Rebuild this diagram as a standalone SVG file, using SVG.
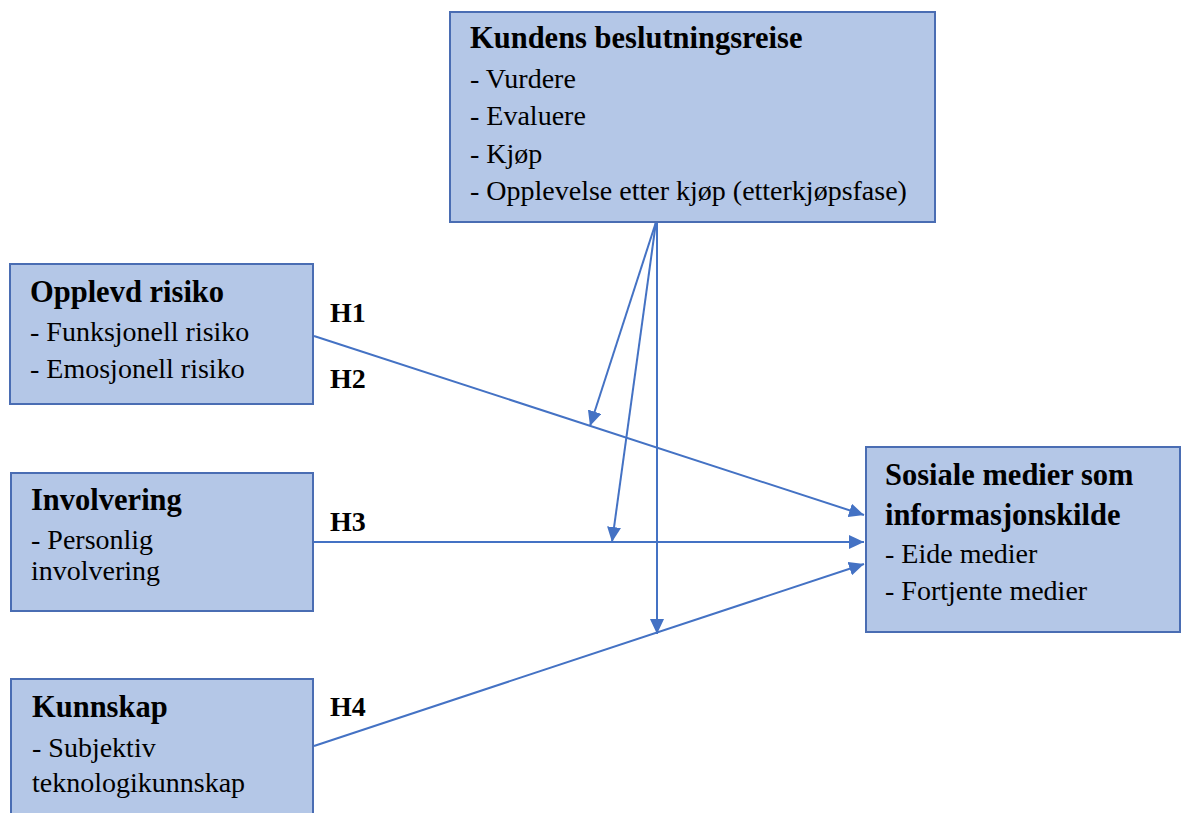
<svg xmlns="http://www.w3.org/2000/svg" width="1182" height="813" viewBox="0 0 1182 813">
<style>
.box{fill:#b4c7e7;stroke:#4a6db3;stroke-width:2}
.t{font-family:"Liberation Serif","Times New Roman",serif;font-size:30.5px;font-weight:bold;fill:#000}
.b{font-family:"Liberation Serif","Times New Roman",serif;font-size:28px;fill:#000}
.h{font-family:"Liberation Serif","Times New Roman",serif;font-size:28px;font-weight:bold;fill:#000}
.c{stroke:#4472c4;stroke-width:2;fill:none}
</style>
<defs>
<marker id="ah" markerUnits="userSpaceOnUse" markerWidth="16" markerHeight="14" refX="15" refY="7" orient="auto">
<path d="M0,0 L15,7 L0,14 Z" fill="#4472c4"/>
</marker>
</defs>
<rect width="1182" height="813" fill="#fff"/>
<g id="connectors">
<line class="c" x1="314" y1="336" x2="864" y2="515" marker-end="url(#ah)"/>
<line class="c" x1="314" y1="542" x2="864" y2="542" marker-end="url(#ah)"/>
<line class="c" x1="314" y1="746" x2="864" y2="564" marker-end="url(#ah)"/>
<line class="c" x1="656" y1="222" x2="590" y2="426" marker-end="url(#ah)"/>
<line class="c" x1="656" y1="222" x2="612" y2="542" marker-end="url(#ah)"/>
<line class="c" x1="657" y1="222" x2="657" y2="634" marker-end="url(#ah)"/>
</g>
<g id="labels">
<text class="h" x="330" y="322">H1</text>
<text class="h" x="330" y="388">H2</text>
<text class="h" x="330" y="531">H3</text>
<text class="h" x="330" y="716">H4</text>
</g>
<g id="kundens">
<rect class="box" x="450" y="12" width="485" height="210"/>
<text class="t" x="470" y="48">Kundens beslutningsreise</text>
<text class="b" x="470" y="88">- Vurdere</text>
<text class="b" x="470" y="125">- Evaluere</text>
<text class="b" x="470" y="163">- Kjøp</text>
<text class="b" x="470" y="200">- Opplevelse etter kjøp (etterkjøpsfase)</text>
</g>
<g id="risiko">
<rect class="box" x="10" y="264" width="303" height="140"/>
<text class="t" x="30" y="302">Opplevd risiko</text>
<text class="b" x="30" y="341">- Funksjonell risiko</text>
<text class="b" x="30" y="378">- Emosjonell risiko</text>
</g>
<g id="involvering">
<rect class="box" x="11" y="473" width="302" height="138"/>
<text class="t" x="31" y="510">Involvering</text>
<text class="b" x="31" y="549">- Personlig</text>
<text class="b" x="31" y="580">involvering</text>
</g>
<g id="kunnskap">
<rect class="box" x="11" y="679" width="302" height="150"/>
<text class="t" x="32" y="717">Kunnskap</text>
<text class="b" x="32" y="757">- Subjektiv</text>
<text class="b" x="32" y="792">teknologikunnskap</text>
</g>
<g id="sosiale">
<rect class="box" x="866" y="447" width="314" height="185"/>
<text class="t" x="885" y="485">Sosiale medier som</text>
<text class="t" x="885" y="525">informasjonskilde</text>
<text class="b" x="885" y="563">- Eide medier</text>
<text class="b" x="885" y="600">- Fortjente medier</text>
</g>
</svg>
